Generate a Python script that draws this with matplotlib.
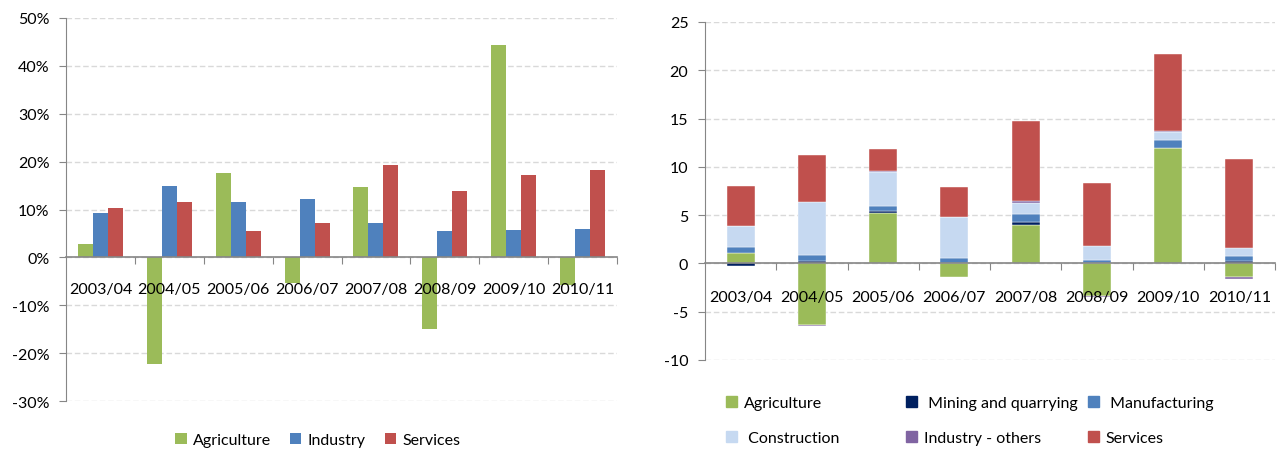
import numpy as np
import matplotlib
matplotlib.use("Agg")
import matplotlib.pyplot as plt
from matplotlib.ticker import FixedLocator, FuncFormatter
from matplotlib.patches import Patch

plt.rcParams['font.family'] = ['Lato', 'DejaVu Sans']
plt.rcParams['axes.unicode_minus'] = False

years = ['2003/04', '2004/05', '2005/06', '2006/07', '2007/08', '2008/09', '2009/10', '2010/11']

# left chart: growth rates, %
agri_growth = [2.7, -22.3, 17.6, -5.3, 14.7, -15.0, 44.4, -5.8]
industry_growth = [9.2, 15.0, 11.5, 12.1, 7.2, 5.5, 5.7, 6.0]
services_growth = [10.4, 11.5, 5.5, 7.2, 19.3, 13.9, 17.3, 18.2]

# right chart: contributions (stacked)
agri = [1.05, -6.33, 5.26, -1.42, 3.94, -3.4, 11.93, -1.42]
mining = [-0.25, 0.2, 0.17, 0.05, 0.31, 0.05, 0.05, 0.2]
manufacturing = [0.62, 0.65, 0.5, 0.55, 0.83, 0.35, 0.83, 0.52]
construction = [2.18, 5.47, 3.5, 4.2, 1.21, 1.38, 0.85, 0.83]
ind_others = [0.05, -0.17, 0.17, 0.05, 0.17, -0.1, 0.05, -0.2]
services = [4.08, 4.9, 2.2, 3.05, 8.24, 6.57, 7.95, 9.24]

GREEN = '#9BBB59'
BLUE = '#4F81BD'
RED = '#C0504D'
NAVY = '#002060'
LIGHTBLUE = '#C6D9F1'
PURPLE = '#8064A2'
AXIS_GREY = '#868686'
GRID_GREY = '#D9D9D9'

fig = plt.figure(figsize=(12.78, 4.52), dpi=100)

ax1 = fig.add_axes([66/1278, 50/452, 551/1278, 383/452])
ax2 = fig.add_axes([705/1278, 91/452, 570/1278, 338/452])


def style_axis(ax, pad_x):
    for s in ['top', 'right']:
        ax.spines[s].set_visible(False)
    ax.spines['left'].set_color(AXIS_GREY)
    ax.spines['bottom'].set_color(AXIS_GREY)
    ax.spines['bottom'].set_position(('data', 0))
    ax.spines['bottom'].set_linewidth(1.2)
    ax.set_xlim(-0.5, len(years) - 0.5)
    ax.xaxis.set_major_locator(FixedLocator(np.arange(0.5, len(years), 1.0)))
    ax.xaxis.set_major_formatter(FuncFormatter(lambda v, p: ''))
    ax.xaxis.set_minor_locator(FixedLocator(np.arange(len(years))))
    ax.set_xticklabels(years, minor=True)
    ax.tick_params(axis='x', which='major', length=5, color=AXIS_GREY, direction='out')
    ax.tick_params(axis='x', which='minor', length=0, pad=pad_x, labelsize=11.5, labelcolor='black')
    ax.tick_params(axis='y', length=5, color=AXIS_GREY, pad=7, labelsize=11.5)
    # grid under the bars, axis labels on top of them
    for yv in ax.get_yticks():
        ax.axhline(yv, linestyle=(0, (4, 2)), color=GRID_GREY, linewidth=1, zorder=0.5)
    ax.set_axisbelow(False)


# ---- left chart
x = np.arange(len(years))
w = 0.218
ax1.bar(x - w, agri_growth, w, color=GREEN, label='Agriculture')
ax1.bar(x, industry_growth, w, color=BLUE, label='Industry')
ax1.bar(x + w, services_growth, w, color=RED, label='Services')
ax1.set_ylim(-30, 50)
ax1.set_yticks(np.arange(-30, 51, 10))
ax1.yaxis.set_major_formatter(FuncFormatter(lambda v, p: '%d%%' % v))
style_axis(ax1, 18)

fig.legend(*ax1.get_legend_handles_labels(), loc='center', bbox_to_anchor=(318/1278, 1 - 441/452),
           ncol=3, frameon=False, fontsize=11.5, handlelength=0.7, handleheight=0.7,
           handletextpad=0.4, columnspacing=1.2)

# ---- right chart
series = [('Agriculture', agri, GREEN),
          (' Mining and quarrying', mining, NAVY),
          (' Manufacturing', manufacturing, BLUE),
          (' Construction', construction, LIGHTBLUE),
          ('Industry - others', ind_others, PURPLE),
          ('Services', services, RED)]
bw = 0.39
pos_bottom = np.zeros(len(years))
neg_bottom = np.zeros(len(years))
handles = {}
for name, vals, col in series:
    vals = np.array(vals)
    bottom = np.where(vals >= 0, pos_bottom, neg_bottom)
    ax2.bar(x, vals, bw, bottom=bottom, color=col, edgecolor='white', linewidth=0.3)
    pos_bottom += np.where(vals >= 0, vals, 0)
    neg_bottom += np.where(vals < 0, vals, 0)
    handles[name] = Patch(color=col)

ax2.set_ylim(-10, 25)
ax2.set_yticks(np.arange(-10, 26, 5))
style_axis(ax2, 19)

cols = [(726, ['Agriculture', ' Construction']),
        (906, [' Mining and quarrying', 'Industry - others']),
        (1088, [' Manufacturing', 'Services'])]
for cx, names in cols:
    fig.legend([handles[n] for n in names], names, loc='upper left',
               bbox_to_anchor=(cx/1278, 1 - 397/452), frameon=False, fontsize=11.5,
               handlelength=0.7, handleheight=0.7, handletextpad=0.4,
               labelspacing=1.3, borderpad=0, borderaxespad=0)

fig.savefig('out.png', dpi=100)
